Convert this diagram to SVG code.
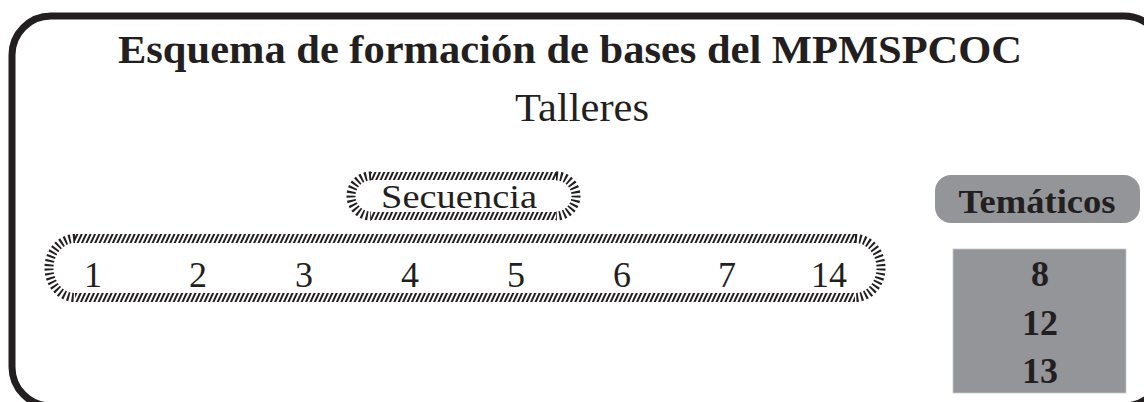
<svg xmlns="http://www.w3.org/2000/svg" width="1144" height="402" viewBox="0 0 1144 402">
  <defs>
    <pattern id="hatch" patternUnits="userSpaceOnUse" width="4" height="10" patternTransform="rotate(25)">
      <rect x="0" y="0" width="2" height="10" fill="#231f20"/>
    </pattern>
    <style>
      .t { font-family: "Liberation Serif", "Times New Roman", serif; fill: #231f20; }
      .b { font-weight: bold; }
      .hl { fill: none; stroke: url(#hatch); stroke-width: 8; }
      .ha { fill: none; stroke: #231f20; stroke-width: 9; stroke-dasharray: 2 2.4; }
      .gray { fill: #939598; }
      .num { font-size: 36px; text-anchor: middle; }
    </style>
  </defs>
  <rect width="1144" height="402" fill="#ffffff"/>
  <g id="frame">
    <rect x="12" y="16" width="1151" height="390" rx="39" ry="39" fill="none" stroke="#231f20" stroke-width="7"/>
  </g>
  <g id="title">
    <text class="t b" x="570" y="63" font-size="40" text-anchor="middle" textLength="904" lengthAdjust="spacingAndGlyphs">Esquema de formación de bases del MPMSPCOC</text>
    <text class="t" x="582" y="121" font-size="40" text-anchor="middle" textLength="134" lengthAdjust="spacingAndGlyphs">Talleres</text>
  </g>
  <g id="connectors"></g>
  <g id="secuencia">
    <path class="hl" d="M371,176 H556 M371,216 H556"/>
    <path class="ha" d="M371,176 A20,20 0 0 0 371,216 M556,176 A20,20 0 0 1 556,216"/>
    <text class="t" x="459" y="208" font-size="33" text-anchor="middle" textLength="156" lengthAdjust="spacingAndGlyphs">Secuencia</text>
  </g>
  <g id="talleres-secuencia">
    <path class="hl" style="stroke-width:9" d="M75,238.5 H855 M75,297.5 H855"/>
    <path class="ha" d="M75,238.5 A26,29.5 0 0 0 75,297.5 M855,238.5 A26,29.5 0 0 1 855,297.5"/>
    <text class="t num" x="93" y="287">1</text>
    <text class="t num" x="198" y="287">2</text>
    <text class="t num" x="304" y="287">3</text>
    <text class="t num" x="410" y="287">4</text>
    <text class="t num" x="516" y="287">5</text>
    <text class="t num" x="622" y="287">6</text>
    <text class="t num" x="727" y="287">7</text>
    <text class="t num" x="829" y="287">14</text>
  </g>
  <g id="tematicos">
    <rect class="gray" x="935" y="175" width="205" height="48" rx="16" ry="16"/>
    <text class="t b" x="1037" y="213" font-size="34" text-anchor="middle" textLength="157" lengthAdjust="spacingAndGlyphs">Temáticos</text>
  </g>
  <g id="tematicos-list">
    <rect class="gray" x="953" y="249" width="173" height="144" stroke="#c8c9cb" stroke-width="0.8"/>
    <text class="t b num" x="1040" y="286">8</text>
    <text class="t b num" x="1040" y="335">12</text>
    <text class="t b num" x="1040" y="383">13</text>
  </g>
</svg>
